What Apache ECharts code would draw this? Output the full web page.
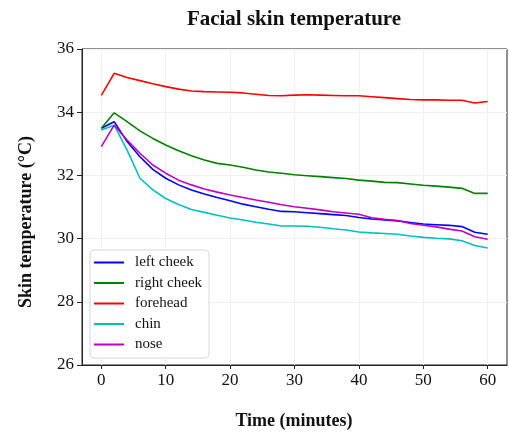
<!DOCTYPE html>
<html>
<head>
<meta charset="utf-8">
<script src="https://cdn.jsdelivr.net/npm/echarts@6/dist/echarts.min.js"></script>
<style>html,body{margin:0;padding:0;background:#fff}#c{width:509px;height:432px}</style>
</head>
<body>
<div id="c"></div>
<script>
const times = [0,2,4,6,8,10,12,14,16,18,20,22,24,26,28,30,32,34,36,38,40,42,44,46,48,50,52,54,56,58,60];
const leftCheek = [33.49,33.70,33.07,32.59,32.19,31.91,31.70,31.54,31.41,31.30,31.20,31.09,31.01,30.93,30.86,30.85,30.82,30.79,30.76,30.73,30.67,30.62,30.59,30.56,30.51,30.46,30.44,30.42,30.38,30.20,30.14];
const rightCheek = [33.49,33.98,33.70,33.41,33.17,32.96,32.78,32.62,32.49,32.38,32.33,32.26,32.17,32.11,32.07,32.02,31.99,31.96,31.93,31.90,31.85,31.82,31.78,31.77,31.73,31.69,31.66,31.63,31.59,31.43,31.43];
const forehead = [34.53,35.23,35.10,35.00,34.90,34.81,34.73,34.67,34.65,34.64,34.63,34.61,34.57,34.53,34.52,34.54,34.55,34.54,34.53,34.52,34.52,34.49,34.46,34.43,34.40,34.39,34.39,34.38,34.38,34.29,34.34];
const chin = [33.44,33.59,32.80,31.91,31.54,31.27,31.08,30.92,30.83,30.74,30.65,30.59,30.52,30.46,30.40,30.40,30.39,30.36,30.31,30.27,30.21,30.18,30.16,30.14,30.08,30.04,30.01,29.99,29.93,29.78,29.70];
const nose = [32.91,33.59,33.12,32.70,32.33,32.07,31.85,31.70,31.57,31.47,31.38,31.30,31.22,31.15,31.07,31.01,30.96,30.91,30.85,30.81,30.77,30.66,30.61,30.57,30.48,30.42,30.37,30.30,30.24,30.06,29.98];
const xTicks = [0,10,20,30,40,50,60];
const seriesNames = ['left cheek','right cheek','forehead','chin','nose'];
const seriesColors = ['#0000ff','#008000','#ff0000','#00bfbf','#bf00bf'];
const seriesData = [leftCheek, rightCheek, forehead, chin, nose];

const FONT = '"Liberation Serif","Times New Roman",serif';
const chart = echarts.init(document.getElementById('c'), null, {renderer:'canvas'});
chart.setOption({
  animation: false,
  backgroundColor: '#fff',
  grid: {left: 82, top: 49, width: 425, height: 316, containLabel: false, outerBoundsMode: 'none',
         show: true, borderColor: '#222', borderWidth: 1, backgroundColor: 'transparent'},
  xAxis: {
    type: 'value', min: -3, max: 63,
    axisLine: {show: true, onZero: false, lineStyle: {color: '#222', width: 1}},
    axisTick: {show: true, length: 4, customValues: xTicks, lineStyle: {color: '#222'}},
    axisLabel: {customValues: xTicks, color: '#111', fontFamily: FONT, fontSize: 17, margin: 7},
    splitLine: {show: true, lineStyle: {color: '#f0f0f0', width: 1}}
  },
  yAxis: {
    type: 'value', min: 26, max: 36, interval: 2,
    axisLine: {show: true, onZero: false, lineStyle: {color: '#222', width: 1}},
    axisTick: {show: true, length: 5, lineStyle: {color: '#222'}},
    axisLabel: {color: '#111', fontFamily: FONT, fontSize: 17, margin: 8},
    splitLine: {show: true, lineStyle: {color: '#f0f0f0', width: 1}}
  },
  legend: {
    orient: 'vertical', left: 90, top: 250,
    data: seriesNames,
    icon: 'rect', itemWidth: 30, itemHeight: 2, itemGap: 5.5,
    padding: [5, 7, 6, 4],
    backgroundColor: 'rgba(255,255,255,0.85)', borderColor: '#d8d8d8', borderWidth: 1, borderRadius: 4,
    textStyle: {fontFamily: FONT, fontSize: 15, color: '#111', padding: [0,0,0,6]}
  },
  graphic: [
    {type: 'text', x: 294, y: 20, style: {text: 'Facial skin temperature', fontFamily: FONT, fontSize: 21, fontWeight: 'bold', fill: '#111', align: 'center', verticalAlign: 'middle'}},
    {type: 'text', x: 294, y: 421, style: {text: 'Time (minutes)', fontFamily: FONT, fontSize: 18, fontWeight: 'bold', fill: '#111', align: 'center', verticalAlign: 'middle'}},
    {type: 'text', x: 26, y: 222, rotation: Math.PI/2, style: {text: 'Skin temperature (°C)', fontFamily: FONT, fontSize: 18, fontWeight: 'bold', fill: '#111', align: 'center', verticalAlign: 'middle'}}
  ],
  series: seriesNames.map((n, i) => ({
    name: n, type: 'line', showSymbol: false, symbol: 'none',
    color: seriesColors[i],
    lineStyle: {width: 1.6, color: seriesColors[i]},
    data: times.map((t, j) => [t, seriesData[i][j]])
  }))
});
</script>
</body>
</html>
